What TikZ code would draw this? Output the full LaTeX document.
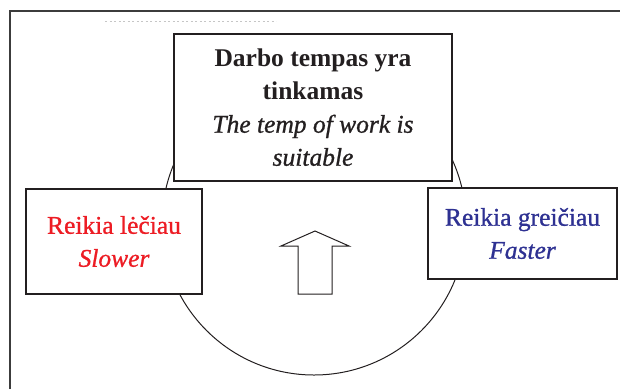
\documentclass[tikz,border=0pt]{standalone}
\usepackage{fontspec}
\setmainfont{Liberation Serif}
\newfontfamily\medfont{Liberation Serif}[FakeBold=0.9]
\definecolor{txtblack}{RGB}{35,31,32}
\definecolor{hred}{RGB}{237,28,36}
\definecolor{hblue}{RGB}{46,49,146}
\definecolor{framegray}{RGB}{60,60,60}
\begin{document}
\begin{tikzpicture}[x=1pt,y=-1pt,
  box/.style={draw=txtblack, line width=1.2pt, fill=white, inner sep=0pt,
    align=center, font=\fontsize{25.5}{33}\selectfont},
  shape line/.style={draw=txtblack, line width=1pt}]
\useasboundingbox (0,0) rectangle (620,389);
% outer frame
\draw[framegray, line width=1.5pt] (10,389) -- (10,11) -- (620,11);
% faint cut-off text line
\draw[gray!45, line width=1pt, dash pattern=on 2pt off 2.5pt] (105,21) -- (276,21);
% circle behind boxes
\draw[shape line] (314,223) circle[radius=152];
% boxes
\node[box, minimum width=278pt, minimum height=147pt, text=txtblack] (top) at (313,107.5)
  {\textbf{Darbo tempas yra}\\ \textbf{tinkamas}\\ {\medfont\itshape The temp of work is}\\ {\medfont\itshape suitable}};
\node[box, minimum width=176pt, minimum height=105pt, text=hred] (slow) at (114,241.5)
  {{\medfont Reikia lėčiau}\\ {\medfont\itshape Slower}};
\node[box, minimum width=189pt, minimum height=91pt, text=hblue] (fast) at (522.5,233.5)
  {{\medfont Reikia greičiau}\\ {\medfont\itshape Faster}};
% up arrow
\draw[shape line, fill=white] (298,294) -- (298,246) -- (281,246) -- (315,231)
  -- (349,246) -- (332,246) -- (332,294) -- cycle;
\end{tikzpicture}
\end{document}
